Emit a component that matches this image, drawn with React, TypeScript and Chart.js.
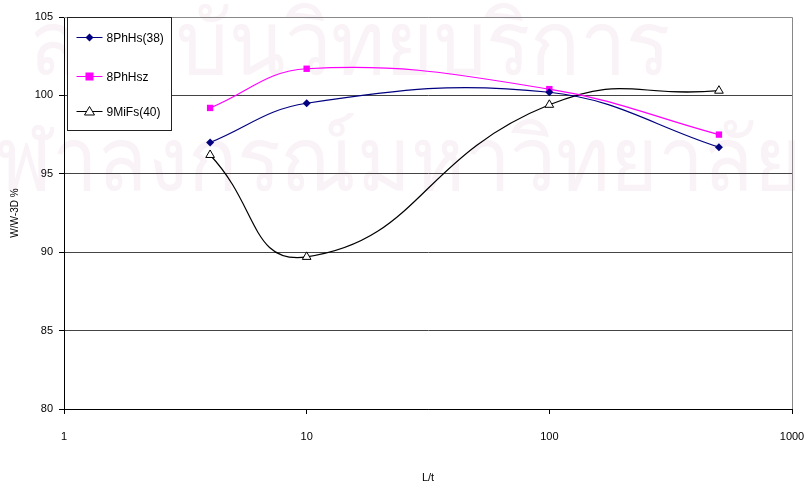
import React, { useEffect, useRef } from "react";
import { Chart, registerables } from "chart.js";

Chart.register(...registerables);

// ---- data ----
const xValues = [4, 10, 100, 500];
const seriesNames = ["8PhHs(38)", "8PhHsz", "9MiFs(40)"];
const series1 = [97.0, 99.5, 100.2, 96.7];
const series2 = [99.2, 101.7, 100.4, 97.5];
const series3 = [96.2, 89.7, 99.4, 100.3];
const xTickValues = [1, 10, 100, 1000];
const yTickValues = [80, 85, 90, 95, 100, 105];
const xTitle = "L/t";
const yTitle = "W/W-3D %";
const watermarkTop = "สถาบันวิทยบริการ";
const watermarkBottomHidden = "จุ";
const watermarkBottom = "ฬาลงกรณ์มหาวิทยาลัย";

const FONT = "'Liberation Sans', Arial, sans-serif";

function drawMarker(ctx: CanvasRenderingContext2D, style: string, x: number, y: number, color: string) {
  ctx.save();
  ctx.lineWidth = 1;
  if (style === "rectRot") {
    const r = 4;
    ctx.fillStyle = color;
    ctx.beginPath();
    ctx.moveTo(x, y - r);
    ctx.lineTo(x + r, y);
    ctx.lineTo(x, y + r);
    ctx.lineTo(x - r, y);
    ctx.closePath();
    ctx.fill();
  } else if (style === "rect") {
    ctx.fillStyle = color;
    ctx.fillRect(x - 4, y - 4, 8, 8);
  } else {
    const r = 5;
    ctx.fillStyle = "#fff";
    ctx.strokeStyle = color;
    ctx.beginPath();
    ctx.moveTo(x, y - r);
    ctx.lineTo(x + r, y + r * 0.7);
    ctx.lineTo(x - r, y + r * 0.7);
    ctx.closePath();
    ctx.fill();
    ctx.stroke();
  }
  ctx.restore();
}

function fitText(ctx: CanvasRenderingContext2D, text: string, x0: number, x1: number, baseline: number, prefix = "") {
  const wFull = ctx.measureText(prefix + text).width;
  const wPre = prefix ? ctx.measureText(prefix).width : 0;
  const s = (x1 - x0) / (wFull - wPre);
  ctx.save();
  ctx.translate(x0 - wPre * s, baseline);
  ctx.scale(s, 1);
  ctx.fillText(prefix + text, 0, 0);
  ctx.restore();
}

const watermarkPlugin = {
  id: "watermark",
  beforeDraw(chart: any) {
    const ctx = chart.ctx as CanvasRenderingContext2D;
    ctx.save();
    ctx.fillStyle = "#f9f2f6";
    ctx.textBaseline = "alphabetic";
    ctx.font = `88px ${FONT}`;
    fitText(ctx, watermarkTop, 30, 670, 74);
    fitText(ctx, watermarkBottom, -4, 802, 190, watermarkBottomHidden);
    ctx.restore();
  },
};

const frameLegendPlugin = {
  id: "frameLegend",
  beforeDatasetsDraw(chart: any) {
    const { ctx, chartArea } = chart;
    ctx.save();
    ctx.strokeStyle = "#888";
    ctx.lineWidth = 1;
    ctx.beginPath();
    ctx.moveTo(chartArea.left, Math.round(chartArea.top) + 0.5);
    ctx.lineTo(Math.round(chartArea.right) + 0.5, Math.round(chartArea.top) + 0.5);
    ctx.lineTo(Math.round(chartArea.right) + 0.5, chartArea.bottom);
    ctx.stroke();
    ctx.restore();
  },
  afterDraw(chart: any) {
    const ctx = chart.ctx as CanvasRenderingContext2D;
    const { chartArea } = chart;
    const bx = Math.round(chartArea.left) + 3.5;
    const by = Math.round(chartArea.top) + 0.5;
    const bw = 104;
    const bh = 113;
    ctx.save();
    ctx.fillStyle = "#fff";
    ctx.fillRect(bx, by, bw, bh);
    ctx.strokeStyle = "#222";
    ctx.lineWidth = 1;
    ctx.strokeRect(bx, by, bw, bh);
    const rows = [20, 59, 94];
    chart.data.datasets.forEach((ds: any, i: number) => {
      const y = by + rows[i];
      ctx.strokeStyle = ds.borderColor;
      ctx.lineWidth = 1;
      ctx.beginPath();
      ctx.moveTo(bx + 9, y);
      ctx.lineTo(bx + 35, y);
      ctx.stroke();
      drawMarker(ctx, ds.pointStyle, bx + 22, y, ds.pointBorderColor || ds.borderColor);
      ctx.fillStyle = "#000";
      ctx.font = `12px ${FONT}`;
      ctx.textBaseline = "middle";
      ctx.textAlign = "left";
      ctx.fillText(ds.label, bx + 39, y + 1);
    });
    ctx.restore();
  },
};

export default function App() {
  const canvasRef = useRef<HTMLCanvasElement | null>(null);

  useEffect(() => {
    if (!canvasRef.current) return;
    const mk = (arr: number[]) => arr.map((v, i) => ({ x: xValues[i], y: v }));
    const chart = new Chart(canvasRef.current, {
      type: "line",
      data: {
        datasets: [
          {
            label: seriesNames[0],
            data: mk(series1),
            borderColor: "#000080",
            backgroundColor: "#000080",
            pointStyle: "rectRot",
            pointRadius: 4,
            pointBorderWidth: 0,
            borderWidth: 1.2,
            tension: 0.4,
          },
          {
            label: seriesNames[1],
            data: mk(series2),
            borderColor: "#ff00ff",
            backgroundColor: "#ff00ff",
            pointStyle: "rect",
            pointRadius: 4.5,
            pointBorderWidth: 0,
            borderWidth: 1.2,
            tension: 0.4,
          },
          {
            label: seriesNames[2],
            data: mk(series3),
            borderColor: "#000000",
            backgroundColor: "#ffffff",
            pointBorderColor: "#000000",
            pointStyle: "triangle",
            pointRadius: 5,
            pointBorderWidth: 1,
            borderWidth: 1.2,
            tension: 0.5,
          },
        ],
      },
      options: {
        animation: false,
        responsive: false,
        maintainAspectRatio: false,
        layout: { padding: { left: 0, right: 16, top: 17, bottom: 0 } },
        plugins: {
          legend: { display: false },
          tooltip: { enabled: false },
        },
        scales: {
          x: {
            type: "logarithmic",
            min: 1,
            max: 1000,
            afterBuildTicks: (scale: any) => {
              scale.ticks = xTickValues.map((v) => ({ value: v }));
            },
            afterFit: (scale: any) => {
              scale.height = 73;
              scale.paddingRight = 0;
              scale.paddingLeft = 0;
            },
            ticks: {
              autoSkip: false,
              maxRotation: 0,
              padding: 16,
              color: "#000",
              font: { family: FONT, size: 11 },
              callback: (v: any) => String(v),
            },
            grid: {
              drawOnChartArea: false,
              drawTicks: true,
              tickLength: 5,
              color: "#000",
            },
            border: { display: true, color: "#000", width: 1 },
            title: {
              display: true,
              text: xTitle,
              color: "#000",
              font: { family: FONT, size: 11 },
              padding: { top: 0, bottom: -3 },
            },
          },
          y: {
            type: "linear",
            min: 80,
            max: 105,
            afterBuildTicks: (scale: any) => {
              scale.ticks = yTickValues.map((v) => ({ value: v }));
            },
            afterFit: (scale: any) => {
              scale.width = 64;
            },
            ticks: {
              padding: 6,
              color: "#000",
              font: { family: FONT, size: 11 },
              callback: (v: any) => String(v),
            },
            grid: {
              drawTicks: true,
              tickLength: 5,
              color: (c: any) => {
                const v = c.tick ? c.tick.value : null;
                if (v === 105) return "rgba(0,0,0,0)";
                return "#444";
              },
              tickColor: "#000",
            },
            border: { display: true, color: "#000", width: 1 },
            title: {
              display: true,
              text: yTitle,
              color: "#000",
              font: { family: FONT, size: 10 },
              padding: { top: 9, bottom: 0 },
            },
          },
        },
      } as any,
      plugins: [watermarkPlugin, frameLegendPlugin],
    });
    return () => chart.destroy();
  }, []);

  return (
    <div style={{ position: "fixed", left: 0, top: 0, width: 808, height: 482, background: "#fff" }}>
      <canvas ref={canvasRef} width={808} height={482} style={{ width: 808, height: 482, display: "block" }} />
    </div>
  );
}
